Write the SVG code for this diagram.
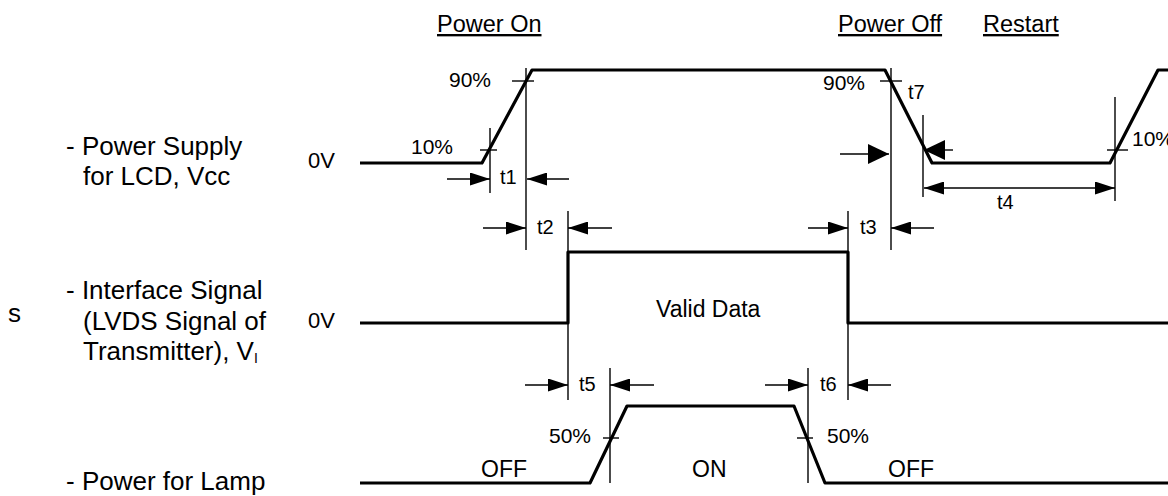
<svg xmlns="http://www.w3.org/2000/svg" width="1168" height="496" viewBox="0 0 1168 496">
<defs>
<style>
text{font-family:"Liberation Sans",Arial,sans-serif;fill:#000}
.lbl{font-size:26px}
.ttl{font-size:23.5px;text-decoration:underline}
.mid{font-size:23px}
.pct{font-size:21px}
.t{font-size:20px}
.v{font-size:22px}
.sig{fill:none;stroke:#000;stroke-width:3.2;stroke-linejoin:round}
.thin{fill:none;stroke:#000;stroke-width:1.4}
.arr{marker-end:url(#ah)}
.arrb{marker-end:url(#ahb)}
</style>
<marker id="ah" markerUnits="userSpaceOnUse" markerWidth="20" markerHeight="13" refX="20" refY="6.5" orient="auto"><path d="M0,0 L20,6.5 L0,13 z" fill="#000"/></marker>
<marker id="ahs" markerUnits="userSpaceOnUse" markerWidth="20" markerHeight="13" refX="0" refY="6.5" orient="auto"><path d="M20,0 L0,6.5 L20,13 z" fill="#000"/></marker>
<marker id="ahb" markerUnits="userSpaceOnUse" markerWidth="21" markerHeight="20" refX="21" refY="10" orient="auto"><path d="M0,0 L21,10 L0,20 z" fill="#000"/></marker>
</defs>
<rect width="1168" height="496" fill="#fff"/>

<g id="titles">
<text class="ttl" x="437" y="32">Power On</text>
<text class="ttl" x="838" y="32">Power Off</text>
<text class="ttl" x="983" y="32">Restart</text>
</g>

<g id="label-vcc">
<text class="lbl" x="66" y="155">- Power Supply</text>
<text class="lbl" x="83" y="185">for LCD, Vcc</text>
<text class="v" x="308" y="168">0V</text>
</g>
<g id="label-vi">
<text class="lbl" x="8" y="322">s</text>
<text class="lbl" x="66" y="299">- Interface Signal</text>
<text class="lbl" x="83" y="330">(LVDS Signal of</text>
<text class="lbl" x="83" y="360">Transmitter), V<tspan font-size="14" dy="3">I</tspan></text>
<text class="v" x="308" y="328">0V</text>
</g>
<g id="label-lamp">
<text class="lbl" x="66" y="490">- Power for Lamp</text>
</g>

<g id="signal-vcc">
<polyline class="sig" points="360,163 482,163 532,70 885,70 932,163 1110,163 1158,70 1170,70"/>
<text class="pct" x="449" y="87">90%</text>
<text class="pct" x="411" y="154">10%</text>
<text class="pct" x="823" y="90">90%</text>
<text class="pct" x="1132" y="146">10%</text>
</g>
<g id="signal-vi">
<polyline class="sig" points="360,323 568,323 568,252 848,252 848,323 1170,323"/>
<text class="mid" x="656" y="317">Valid Data</text>
</g>
<g id="signal-lamp">
<polyline class="sig" points="360,483 590,483 627,406 794,406 825,483 1170,483"/>
<text class="pct" x="549" y="443">50%</text>
<text class="pct" x="827" y="443">50%</text>
<text class="mid" x="481" y="477">OFF</text>
<text class="mid" x="692" y="477">ON</text>
<text class="mid" x="888" y="477">OFF</text>
</g>

<g id="connectors">
<line class="thin" x1="490" y1="128" x2="490" y2="193"/>
<line class="thin" x1="480" y1="150" x2="497" y2="150"/>
<line class="thin" x1="526" y1="68" x2="526" y2="250"/>
<line class="thin" x1="512" y1="81" x2="534" y2="81"/>
<line class="thin arr" x1="447" y1="179" x2="490" y2="179"/>
<line class="thin arr" x1="569" y1="179" x2="527" y2="179"/>
<line class="thin arr" x1="483" y1="228" x2="526" y2="228"/>
<line class="thin arr" x1="612" y1="228" x2="568" y2="228"/>
<line class="thin" x1="568" y1="211" x2="568" y2="400"/>
<line class="thin arr" x1="808" y1="228" x2="848" y2="228"/>
<line class="thin arr" x1="934" y1="228" x2="891" y2="228"/>
<line class="thin" x1="848" y1="211" x2="848" y2="400"/>
<line class="thin" x1="891" y1="68" x2="891" y2="250"/>
<line class="thin" x1="880" y1="81" x2="902" y2="81"/>
<line class="thin arrb" x1="840" y1="154" x2="889" y2="154"/>
<line class="thin arrb" x1="953" y1="150" x2="924" y2="150"/>
<line class="thin" x1="923" y1="115" x2="923" y2="197"/>
<line class="thin" x1="924" y1="188" x2="1115" y2="188" marker-start="url(#ahs)" marker-end="url(#ah)"/>
<line class="thin" x1="1115" y1="97" x2="1115" y2="201"/>
<line class="thin" x1="1107" y1="150" x2="1128" y2="150"/>
<line class="thin arr" x1="525" y1="385" x2="568" y2="385"/>
<line class="thin arr" x1="654" y1="385" x2="610" y2="385"/>
<line class="thin" x1="610" y1="368" x2="610" y2="483"/>
<line class="thin" x1="603" y1="438" x2="619" y2="438"/>
<line class="thin arr" x1="765" y1="385" x2="808" y2="385"/>
<line class="thin arr" x1="891" y1="385" x2="848" y2="385"/>
<line class="thin" x1="808" y1="368" x2="808" y2="483"/>
<line class="thin" x1="797" y1="438" x2="813" y2="438"/>
<text class="t" x="500" y="184">t1</text>
<text class="t" x="537" y="234">t2</text>
<text class="t" x="860" y="234">t3</text>
<text class="t" x="908" y="99">t7</text>
<text class="t" x="997" y="209">t4</text>
<text class="t" x="579" y="391">t5</text>
<text class="t" x="820" y="391">t6</text>
</g>
</svg>
